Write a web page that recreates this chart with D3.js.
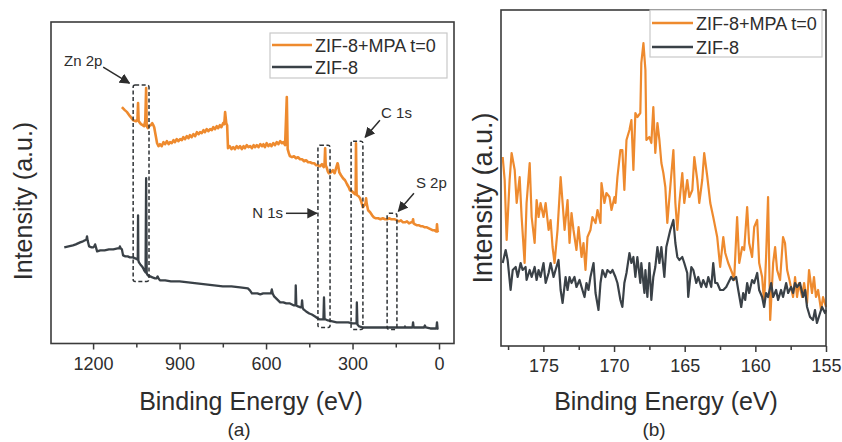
<!DOCTYPE html>
<html>
<head>
<meta charset="utf-8">
<script src="https://cdn.jsdelivr.net/npm/d3@7"></script>
<style>
  body { margin: 0; background: #fff; }
  text { font-family: "Liberation Sans", Arial, Helvetica, sans-serif; fill: #2d2d2d; }
</style>
</head>
<body>
<svg id="chart" width="842" height="442"></svg>
<script>
// ---- Data: XPS spectra, [binding energy (eV), intensity (a.u.)] ----
const seriesNames = ["ZIF-8+MPA t=0", "ZIF-8"];

// Survey scans
const surveyMPA = [[1100,236],[1090,233],[1082,231],[1072,227],[1061,223],[1051,222],[1046,224],[1044,240],[1042,222],[1034,219],[1028,218],[1023,217],[1019,222],[1016,255],[1014,217],[1010,215],[1006,217],[1000,218],[995,220],[991,218],[988,216],[983,208],[978,200],[973,197],[968,199],[962,197],[956,201],[950,199],[944,202],[938,199],[933,201],[927,200],[921,203],[916,201],[910,204],[904,202],[898,204],[892,203],[887,206],[881,204],[875,207],[869,205],[864,208],[858,206],[852,209],[846,207],[840,211],[834,209],[829,211],[823,210],[817,213],[812,211],[806,214],[800,212],[794,214],[788,213],[783,216],[777,214],[771,217],[766,215],[760,218],[755,216],[749,220],[745,219],[742,231],[738,220],[735,218],[732,195],[726,197],[720,194],[714,196],[708,194],[702,197],[696,195],[690,197],[684,194],[678,197],[673,195],[667,198],[661,196],[655,197],[649,195],[643,198],[638,196],[632,198],[626,196],[620,199],[614,197],[609,199],[604,196],[598,200],[592,197],[586,199],[581,197],[575,200],[569,198],[563,201],[557,199],[551,202],[545,200],[540,201],[534,198],[528,246],[525,194],[521,190],[517,187],[510,186],[503,187],[496,185],[489,186],[482,184],[475,184],[468,182],[461,183],[454,181],[447,181],[440,180],[433,180],[426,178],[420,178],[413,177],[406,179],[400,176],[397,180],[395,195],[393,178],[390,176],[386,172],[382,170],[375,171],[368,173],[362,170],[356,176],[352,180],[350,178],[346,171],[340,168],[333,165],[326,163],[319,159],[313,156],[309,153],[302,152],[295,150],[291,149],[289,150],[288,200],[286,150],[284,148],[279,147],[274,145],[269,141],[264,136],[259,138],[255,140],[253,145],[251,140],[246,133],[239,131],[232,128],[226,126],[219,125],[211,125],[203,124],[195,125],[187,124],[180,124],[172,125],[165,124],[158,124],[153,124],[146,123],[139,122],[132,123],[125,121],[118,121],[111,122],[104,120],[97,121],[92,121],[90,124],[88,120],[83,119],[76,118],[69,118],[62,117],[56,117],[49,116],[42,116],[35,115],[28,114],[21,113],[15,113],[10,112],[8,114],[7,119],[5,112],[3,111]];

const surveyZIF = [[1300,96],[1285,97],[1270,98],[1260,99],[1245,101],[1235,102],[1228,103],[1223,104],[1221,107],[1219,103],[1214,97],[1205,96],[1200,96],[1196,97],[1193,99],[1190,96],[1186,92],[1175,93],[1160,93],[1145,94],[1130,94],[1115,95],[1109,95],[1107,97],[1104,95],[1100,94],[1096,88],[1088,87],[1080,87],[1072,86],[1062,86],[1054,85],[1048,84],[1045,84],[1044,128],[1043,83],[1041,81],[1036,79],[1030,77],[1026,75],[1023,73],[1018,71],[1016,165],[1014,70],[1010,68],[1002,67],[994,66],[985,65],[980,65],[976,67],[973,65],[968,63],[950,63],[930,62],[900,62],[870,61],[840,60],[810,59],[780,58],[750,57],[720,57],[690,56],[663,55],[656,53],[649,50],[640,50],[630,50],[620,49],[610,50],[600,50],[590,50],[583,50],[580,54],[577,50],[572,47],[565,45],[558,43],[551,41],[540,41],[530,40],[517,40],[510,39],[503,38],[498,38],[497,58],[495,38],[489,37],[480,36],[477,36],[475,43],[473,36],[470,34],[461,32],[450,30],[441,29],[430,27],[420,25],[413,24],[406,24],[401,24],[399,46],[397,24],[393,24],[385,23],[370,22],[355,21],[343,21],[330,21],[315,21],[300,20],[291,20],[286,20],[285,41],[283,19],[277,17],[265,16],[250,16],[239,16],[220,16],[200,16],[180,16],[170,16],[150,16],[130,16],[120,16],[118,17],[116,16],[100,16],[92,16],[90,21],[88,16],[70,16],[52,16],[49,18],[46,16],[30,15],[15,15],[9,15],[7,21],[5,15],[3,14]];

// S 2p high-resolution scans
const s2pMPA = [[177.88,189],[177.74,166],[177.60,106],[177.39,166],[177.25,193],[177.03,176],[176.89,143],[176.68,169],[176.54,129],[176.33,83],[176.19,143],[175.97,183],[175.83,129],[175.62,103],[175.48,146],[175.34,129],[175.20,143],[174.99,129],[174.84,143],[174.63,116],[174.49,126],[174.35,99],[174.21,83],[174.00,116],[173.78,169],[173.64,143],[173.50,116],[173.29,146],[173.15,103],[173.01,133],[172.87,116],[172.66,96],[172.51,119],[172.30,89],[172.16,103],[172.02,76],[171.88,109],[171.67,116],[171.53,129],[171.31,123],[171.17,136],[170.96,123],[170.89,163],[170.68,143],[170.54,153],[170.32,149],[170.18,136],[169.97,149],[169.90,143],[169.76,169],[169.55,196],[169.41,196],[169.27,156],[169.12,206],[168.91,216],[168.77,226],[168.63,176],[168.49,233],[168.35,229],[168.14,233],[168.07,283],[167.92,303],[167.78,276],[167.71,206],[167.50,209],[167.36,203],[167.22,239],[167.08,193],[166.93,223],[166.79,206],[166.65,183],[166.51,173],[166.37,159],[166.23,123],[166.02,159],[165.80,196],[165.66,143],[165.52,116],[165.38,143],[165.17,173],[165.03,143],[164.82,166],[164.67,149],[164.46,156],[164.32,189],[164.11,166],[163.97,143],[163.76,166],[163.62,193],[163.40,169],[163.19,143],[162.98,129],[162.70,109],[162.49,79],[162.27,109],[162.13,93],[161.92,83],[161.64,73],[161.50,66],[161.29,129],[161.14,83],[160.93,99],[160.79,96],[160.58,139],[160.44,103],[160.23,89],[160.08,119],[159.87,126],[159.73,83],[159.52,69],[159.38,43],[159.24,89],[159.10,149],[158.95,26],[158.74,83],[158.60,99],[158.46,76],[158.25,66],[158.04,109],[157.90,103],[157.75,76],[157.54,63],[157.33,49],[157.19,69],[157.05,49],[156.91,63],[156.69,49],[156.55,63],[156.34,43],[156.20,76],[155.99,53],[155.85,69],[155.71,49],[155.56,56],[155.35,36],[155.21,49],[155.00,39]];

const s2pZIF = [[177.88,83],[177.67,96],[177.53,86],[177.32,56],[177.17,76],[176.96,79],[176.82,69],[176.61,83],[176.47,76],[176.26,79],[176.19,66],[175.97,76],[175.83,69],[175.62,79],[175.48,66],[175.34,76],[175.20,69],[174.99,83],[174.84,63],[174.63,73],[174.49,83],[174.28,69],[174.14,76],[173.93,86],[173.78,56],[173.64,43],[173.43,69],[173.29,56],[173.15,69],[173.01,63],[172.80,69],[172.66,59],[172.44,66],[172.30,59],[172.09,49],[171.95,63],[171.81,56],[171.67,69],[171.45,83],[171.31,53],[171.10,36],[170.96,63],[170.82,76],[170.61,69],[170.47,76],[170.25,73],[170.11,76],[169.90,69],[169.76,63],[169.55,46],[169.41,39],[169.27,63],[169.12,73],[168.91,93],[168.77,83],[168.63,89],[168.49,69],[168.35,89],[168.14,63],[168.07,83],[167.85,53],[167.78,76],[167.64,49],[167.50,83],[167.36,46],[167.22,69],[167.08,79],[166.93,99],[166.79,83],[166.65,99],[166.44,69],[166.30,99],[166.02,116],[165.80,126],[165.66,103],[165.52,89],[165.38,86],[165.17,89],[165.03,83],[164.82,73],[164.75,49],[164.53,79],[164.39,76],[164.18,63],[164.04,69],[163.83,59],[163.69,66],[163.47,59],[163.33,69],[163.12,59],[162.98,83],[162.84,63],[162.70,63],[162.49,56],[162.27,56],[162.06,59],[161.92,63],[161.71,69],[161.57,66],[161.36,69],[161.21,56],[161.00,39],[160.86,53],[160.72,46],[160.58,63],[160.44,53],[160.23,66],[160.08,63],[159.87,73],[159.73,56],[159.52,49],[159.38,39],[159.24,53],[159.10,49],[158.88,63],[158.74,49],[158.53,56],[158.39,46],[158.18,56],[158.04,49],[157.82,63],[157.68,53],[157.47,59],[157.33,53],[157.19,63],[157.05,59],[156.84,63],[156.62,49],[156.48,56],[156.34,39],[156.13,29],[155.92,26],[155.78,36],[155.64,23],[155.42,33],[155.28,39],[155.07,33],[155.00,36]];

// Axis ticks
const surveyTicks = [1200, 900, 600, 300, 0];
const surveyMinorTicks = [1050, 750, 450, 150];
const s2pTicks = [175, 170, 165, 160, 155];
const s2pMinorTicks = [177.5, 172.5, 167.5, 162.5, 157.5];

// Core-level windows marked on the survey: energy window (eV) and intensity span
const peakWindows = [
  { label: "Zn 2p", window: [1061, 1006], span: [62, 258] },
  { label: "N 1s",  window: [420, 378],   span: [16, 198] },
  { label: "C 1s",  window: [305, 264],   span: [14, 202] },
  { label: "S 2p",  window: [180, 146],   span: [14, 130] }
];
// Callout text and arrow placement, in data units
const peakCallouts = [
  { label: "Zn 2p", at: [1301, 277], anchor: "start", from: [1165, 276], to: [1074, 260] },
  { label: "N 1s",  at: [541, 125],  anchor: "end",   from: [531, 130],  to: [424, 130] },
  { label: "C 1s",  at: [201, 225],  anchor: "start", from: [205, 223],  to: [256, 206] },
  { label: "S 2p",  at: [80, 155],   anchor: "start", from: [87, 150],   to: [141, 132] }
];

// ---- Drawing ----
const colors = ["#ee8a2e", "#3a4147"];
const frameColor = "#3b3b3b";
const fontStack = "'Liberation Sans', Arial, Helvetica, sans-serif";
const svg = d3.select("#chart");

const defs = svg.append("defs");
defs.append("marker")
  .attr("id", "arrow")
  .attr("viewBox", "0 0 10 10")
  .attr("refX", 9).attr("refY", 5)
  .attr("markerWidth", 7).attr("markerHeight", 7)
  .attr("orient", "auto")
  .append("path").attr("d", "M0,0 L10,5 L0,10 z").attr("fill", "#2d2d2d");

function drawPanel(cfg) {
  const { left, top, right, bottom, xDomain, yDomain, series, ticks, minorTicks,
          tickPad, legend, title, tag, yTitle } = cfg;
  const x = d3.scaleLinear().domain(xDomain).range([left, right]);
  const y = d3.scaleLinear().domain(yDomain).range([bottom, top]);
  const g = svg.append("g");

  const line = d3.line().x(d => x(d[0])).y(d => y(d[1]));
  series.forEach((s, i) => {
    g.append("path").datum(s)
      .attr("d", line)
      .attr("fill", "none")
      .attr("stroke", colors[i])
      .attr("stroke-width", cfg.lineWidth[i])
      .attr("stroke-linejoin", "round");
  });

  // frame
  g.append("rect")
    .attr("x", left).attr("y", top)
    .attr("width", right - left).attr("height", bottom - top)
    .attr("fill", "none").attr("stroke", frameColor).attr("stroke-width", 1.6);

  // bottom axis, major and minor ticks
  const major = g.append("g").attr("transform", `translate(0,${bottom})`)
    .call(d3.axisBottom(x).tickValues(ticks).tickSize(6).tickSizeOuter(0)
      .tickPadding(tickPad).tickFormat(d3.format("d")));
  major.attr("font-family", null);
  major.select(".domain").remove();
  major.selectAll("line").attr("stroke", frameColor).attr("stroke-width", 1.5);
  major.selectAll("text").style("font-size", "18px").attr("fill", "#333")
    .style("font-family", fontStack);

  const minor = g.append("g").attr("transform", `translate(0,${bottom})`)
    .call(d3.axisBottom(x).tickValues(minorTicks).tickSize(4).tickSizeOuter(0).tickFormat(""));
  minor.select(".domain").remove();
  minor.selectAll("line").attr("stroke", frameColor).attr("stroke-width", 1.5);

  // legend
  const lg = g.append("g");
  lg.append("rect")
    .attr("x", legend.x).attr("y", legend.y)
    .attr("width", legend.w).attr("height", legend.h)
    .attr("fill", "#fff").attr("stroke", "#c9c9c9").attr("stroke-width", 1.2);
  seriesNames.forEach((name, i) => {
    const ly = legend.rows[i];
    lg.append("line")
      .attr("x1", legend.x + 2).attr("x2", legend.lineEnd)
      .attr("y1", ly).attr("y2", ly)
      .attr("stroke", colors[i]).attr("stroke-width", 2.4);
    lg.append("text")
      .attr("x", legend.lineEnd + 3).attr("y", ly + 6.5)
      .style("font-size", "18px")
      .text(name);
  });

  // axis titles and panel tag
  g.append("text")
    .attr("x", title.x).attr("y", 410)
    .attr("text-anchor", "middle").style("font-size", "25px")
    .text("Binding Energy (eV)");
  g.append("text")
    .attr("x", tag.x).attr("y", 436)
    .attr("text-anchor", "middle").style("font-size", "19px")
    .text(tag.text);
  g.append("text")
    .attr("transform", `translate(${yTitle.x},${yTitle.y}) rotate(-90)`)
    .attr("text-anchor", "middle").style("font-size", yTitle.size + "px")
    .text("Intensity (a.u.)");

  return { x, y, g };
}

// (a) survey
const pa = drawPanel({
  left: 51, top: 22, right: 454, bottom: 343.5,
  xDomain: [1346, -52], yDomain: [0, 321],
  series: [surveyMPA, surveyZIF], lineWidth: [2.6, 2.3],
  ticks: surveyTicks, minorTicks: surveyMinorTicks, tickPad: 8,
  legend: { x: 270, y: 33, w: 177, h: 45, lineEnd: 312, rows: [45, 67] },
  title: { x: 251 }, tag: { x: 239, text: "(a)" },
  yTitle: { x: 32, y: 201, size: 25 }
});

// dashed windows around the core levels
pa.g.selectAll(".peak-window").data(peakWindows).enter().append("rect")
  .attr("class", "peak-window")
  .attr("x", d => pa.x(d.window[0]))
  .attr("y", d => pa.y(d.span[1]))
  .attr("width", d => pa.x(d.window[1]) - pa.x(d.window[0]))
  .attr("height", d => pa.y(d.span[0]) - pa.y(d.span[1]))
  .attr("rx", 2).attr("ry", 2)
  .attr("fill", "none").attr("stroke", "#2f3336")
  .attr("stroke-width", 1.5).attr("stroke-dasharray", "4,2.5");

peakCallouts.forEach(c => {
  pa.g.append("line")
    .attr("x1", pa.x(c.from[0])).attr("y1", pa.y(c.from[1]))
    .attr("x2", pa.x(c.to[0])).attr("y2", pa.y(c.to[1]))
    .attr("stroke", "#2d2d2d").attr("stroke-width", 1.5)
    .attr("marker-end", "url(#arrow)");
  pa.g.append("text")
    .attr("x", pa.x(c.at[0])).attr("y", pa.y(c.at[1]))
    .attr("text-anchor", c.anchor).style("font-size", "15px")
    .text(c.label);
});

// (b) S 2p region
drawPanel({
  left: 501, top: 10, right: 826, bottom: 346,
  xDomain: [178, 155], yDomain: [0, 336],
  series: [s2pMPA, s2pZIF], lineWidth: [2.2, 2.2],
  ticks: s2pTicks, minorTicks: s2pMinorTicks, tickPad: 7,
  legend: { x: 650, y: 10, w: 172, h: 47, lineEnd: 693, rows: [23, 47] },
  title: { x: 666 }, tag: { x: 654, text: "(b)" },
  yTitle: { x: 492, y: 198, size: 27 }
});
</script>
</body>
</html>
